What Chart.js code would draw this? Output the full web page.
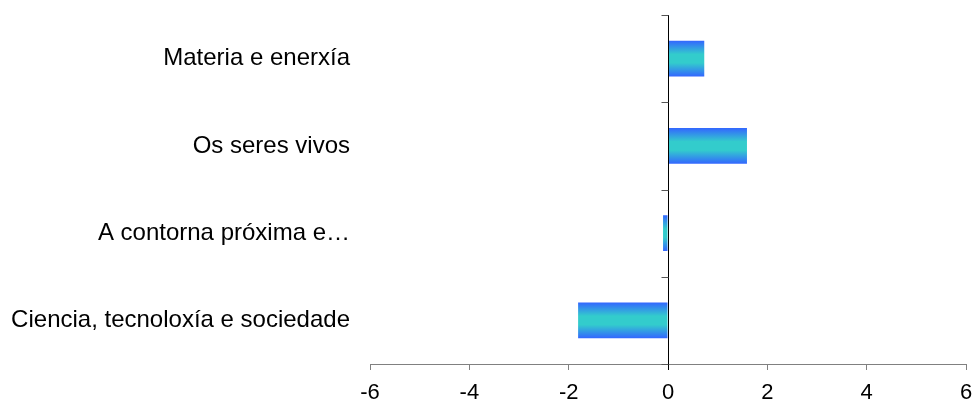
<!DOCTYPE html>
<html>
<head>
<meta charset="utf-8">
<script src="https://cdn.jsdelivr.net/npm/chart.js@4/dist/chart.umd.min.js"></script>
<style>
  html, body { margin: 0; padding: 0; background: #ffffff; }
  #wrap { width: 972px; height: 399px; position: relative; }
</style>
</head>
<body>
<div id="wrap"><canvas id="chart"></canvas></div>
<script>
// Topic areas and their scores
const categories = [
  'Materia e enerxía',
  'Os seres vivos',
  'A contorna próxima e…',
  'Ciencia, tecnoloxía e sociedade'
];
const scores = [0.73, 1.59, -0.1, -1.81];
const xTicks = [-6, -4, -2, 0, 2, 4, 6];

const CAT_PCT = 0.82;
const BAR_PCT = 0.5;
const FONT = 'Liberation Sans, Arial, sans-serif';

// Vertical blue-cyan-blue gradient for each bar, centred on its category
function barGradient(ctx) {
  const chart = ctx.chart;
  const yScale = chart.scales && chart.scales.y;
  if (!yScale || ctx.dataIndex === undefined) return '#33cccc';
  const step = Math.abs(yScale.getPixelForValue(1) - yScale.getPixelForValue(0));
  const half = step * CAT_PCT * BAR_PCT / 2;
  const c = yScale.getPixelForValue(ctx.dataIndex);
  if (!isFinite(c) || !isFinite(half) || half <= 0) return '#33cccc';
  const g = chart.ctx.createLinearGradient(0, c - half, 0, c + half);
  g.addColorStop(0, '#3366ff');
  g.addColorStop(0.38, '#33cccc');
  g.addColorStop(0.62, '#33cccc');
  g.addColorStop(1, '#3366ff');
  return g;
}

// Vertical axis drawn through zero, with tick marks between categories
const zeroAxis = {
  id: 'zeroAxis',
  afterDatasetsDraw(chart) {
    const { ctx, chartArea, scales } = chart;
    const x0 = Math.round(scales.x.getPixelForValue(0)) + 0.5;
    ctx.save();
    ctx.strokeStyle = '#000000';
    ctx.lineWidth = 1;
    ctx.beginPath();
    ctx.moveTo(x0, chartArea.top);
    ctx.lineTo(x0, chartArea.bottom + 6);
    ctx.stroke();
    ctx.strokeStyle = '#555555';
    const n = categories.length;
    const step = (chartArea.bottom - chartArea.top) / n;
    for (let i = 0; i <= n; i++) {
      const y = Math.round(chartArea.top + i * step) + 0.5;
      ctx.beginPath();
      ctx.moveTo(x0 - 7, y);
      ctx.lineTo(x0, y);
      ctx.stroke();
    }
    ctx.restore();
  }
};

new Chart(document.getElementById('chart'), {
  type: 'bar',
  data: {
    labels: categories,
    datasets: [{
      data: scores,
      backgroundColor: barGradient,
      borderWidth: 0,
      categoryPercentage: CAT_PCT,
      barPercentage: BAR_PCT
    }]
  },
  options: {
    indexAxis: 'y',
    responsive: true,
    maintainAspectRatio: false,
    animation: false,
    layout: { padding: { top: 15, right: 6, left: 0, bottom: 0 } },
    plugins: { legend: { display: false }, tooltip: { enabled: false } },
    scales: {
      x: {
        min: -6,
        max: 6,
        afterBuildTicks(scale) { scale.ticks = xTicks.map(v => ({ value: v })); },
        grid: {
          drawOnChartArea: false,
          drawTicks: true,
          tickLength: 6,
          tickColor: '#808080'
        },
        border: { display: true, color: '#808080', width: 1 },
        ticks: {
          color: '#000000',
          padding: 10,
          maxRotation: 0,
          font: { family: FONT, size: 22 }
        },
        afterFit(scale) {
          scale.height = 35;
          scale.paddingLeft = 0;
          scale.paddingRight = 0;
        }
      },
      y: {
        grid: { display: false },
        border: { display: false },
        ticks: {
          color: '#000000',
          padding: 12,
          font: { family: FONT, size: 24 }
        },
        afterFit(scale) {
          scale.width = 370;
          scale.paddingTop = 0;
          scale.paddingBottom = 0;
        }
      }
    }
  },
  plugins: [zeroAxis]
});
</script>
</body>
</html>
